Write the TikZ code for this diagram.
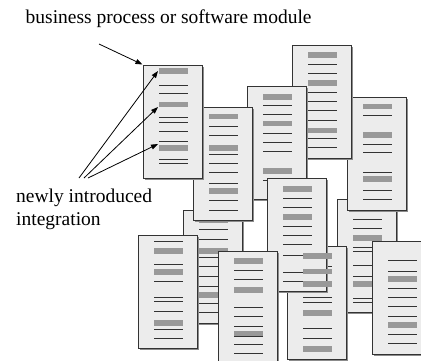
\documentclass[tikz,border=0pt]{standalone}
\usepackage{fontspec}
\setmainfont{Liberation Serif}
\usetikzlibrary{arrows.meta}
\tikzset{
  docfill/.style={fill=gray!15, draw=black!80, line width=1pt},
  docshadow/.style={draw=black!45, line width=1pt},
  barcol/.style={fill=black!40},
  linecol/.style={draw=black!80, line width=0.9pt},
  lbl/.style={font=\fontsize{19.5}{23}\selectfont, inner sep=0pt, anchor=base west},
  arr/.style={draw=black, line width=0.8pt, -{Triangle[length=7pt,width=5pt]}}
}
\newcommand\docpage[4]{%
  \begin{scope}[shift={(#1,#2)}]
    \draw[docshadow] (60,1.5) -- (60,114) -- (1.5,114);
    \filldraw[docfill] (0,0) rectangle (59,113);
    \foreach \a/\b in {#3} {\fill[barcol] (16,\a) rectangle (45,\b);}
    \foreach \c in {#4} {\draw[linecol] (16,\c) -- (45,\c);}
  \end{scope}}
\newcommand\docbars[3]{%
  \begin{scope}[shift={(#1,#2)}]
    \foreach \a/\b in {#3} {\fill[barcol] (16,\a) rectangle (45,\b);}
  \end{scope}}
\begin{document}
\begin{tikzpicture}[x=1pt,y=-1pt]
\useasboundingbox (0,0) rectangle (421,360);
% H
\docpage{337}{199}{7/13,36/41.7,82/87.7}{20.3,29.5,48.3,52,66.5,77,99,103.5}
% E
\docpage{347}{97}{7/12.3,35.3/40.7,79/84.7}{18.7,47,55.7,75.7,93,102.3}
% D
\docpage{292}{45}{7/12.5,35/40.7,82.5/88}{19,28.3,47,56,65.5,75,93.5,102}
% C
\docpage{247}{86}{8/13.5,34.5/40,82.3/88}{19.5,28.8,47.5,56.5,65.5,94}
% K
\docpage{287}{246}{7.3/13,23/28.3,35/40.7,64/69.7,100/105.7}{20,51.7,56.7,82.3,92.3}
% G
\docpage{267}{178}{8/13.7,36/42}{20.3,29.3,48.7,57.7,66.7,77,94.7,103.7}
% K bars shown over G
\docbars{287}{246}{7.3/13,23/28.3,35/40.7}
% F
\docpage{183}{210}{8/13.3,38.3/44,82/87.7}{19.3,29,47.3,56.7,66,76,93.3,102.5}
% B
\docpage{193}{107}{7/12.3,38.3/43.7,81.3/87}{19,28.7,47.5,56.3,65.7,76.3,93,103}
% A
\docpage{143}{65}{3.3/9,36.7/42,80/85.5}{20,28,52,57,66.5,76,94,98.3}
% J
\docpage{218}{251}{7.3/13,36.3/41.7,80/85.7}{19.7,28.3,56.3,65.7,75.7,85.7,93,102.3}
% I
\docpage{138}{235}{13.3/19,34.3/40,85/90.7}{6,29.3,46.7,62.7,66,76.7,94.3,103.3}
% L
\docpage{372}{241}{35/40.7,81.3/86.7}{19.3,30,47,56.5,65.7,75.7,93.3,102.3}

% labels
\node[lbl] (top) at (25.5,23) {business process or software module};
\node[lbl] (nl1) at (16,202) {newly introduced};
\node[lbl] (nl2) at (16,225) {integration};

% arrows
\coordinate (s0) at (99,44);
\coordinate (t0) at (142.5,64.5);
\coordinate (s1) at (79,178);
\coordinate (s2) at (84,178);
\coordinate (s3) at (88,178);
\coordinate (t1) at (158,71);
\coordinate (t2) at (158,107);
\coordinate (t3) at (158,144);
\draw[arr] (s0) -- (t0);
\draw[arr] (s1) -- (t1);
\draw[arr] (s2) -- (t2);
\draw[arr] (s3) -- (t3);
\end{tikzpicture}
\end{document}
